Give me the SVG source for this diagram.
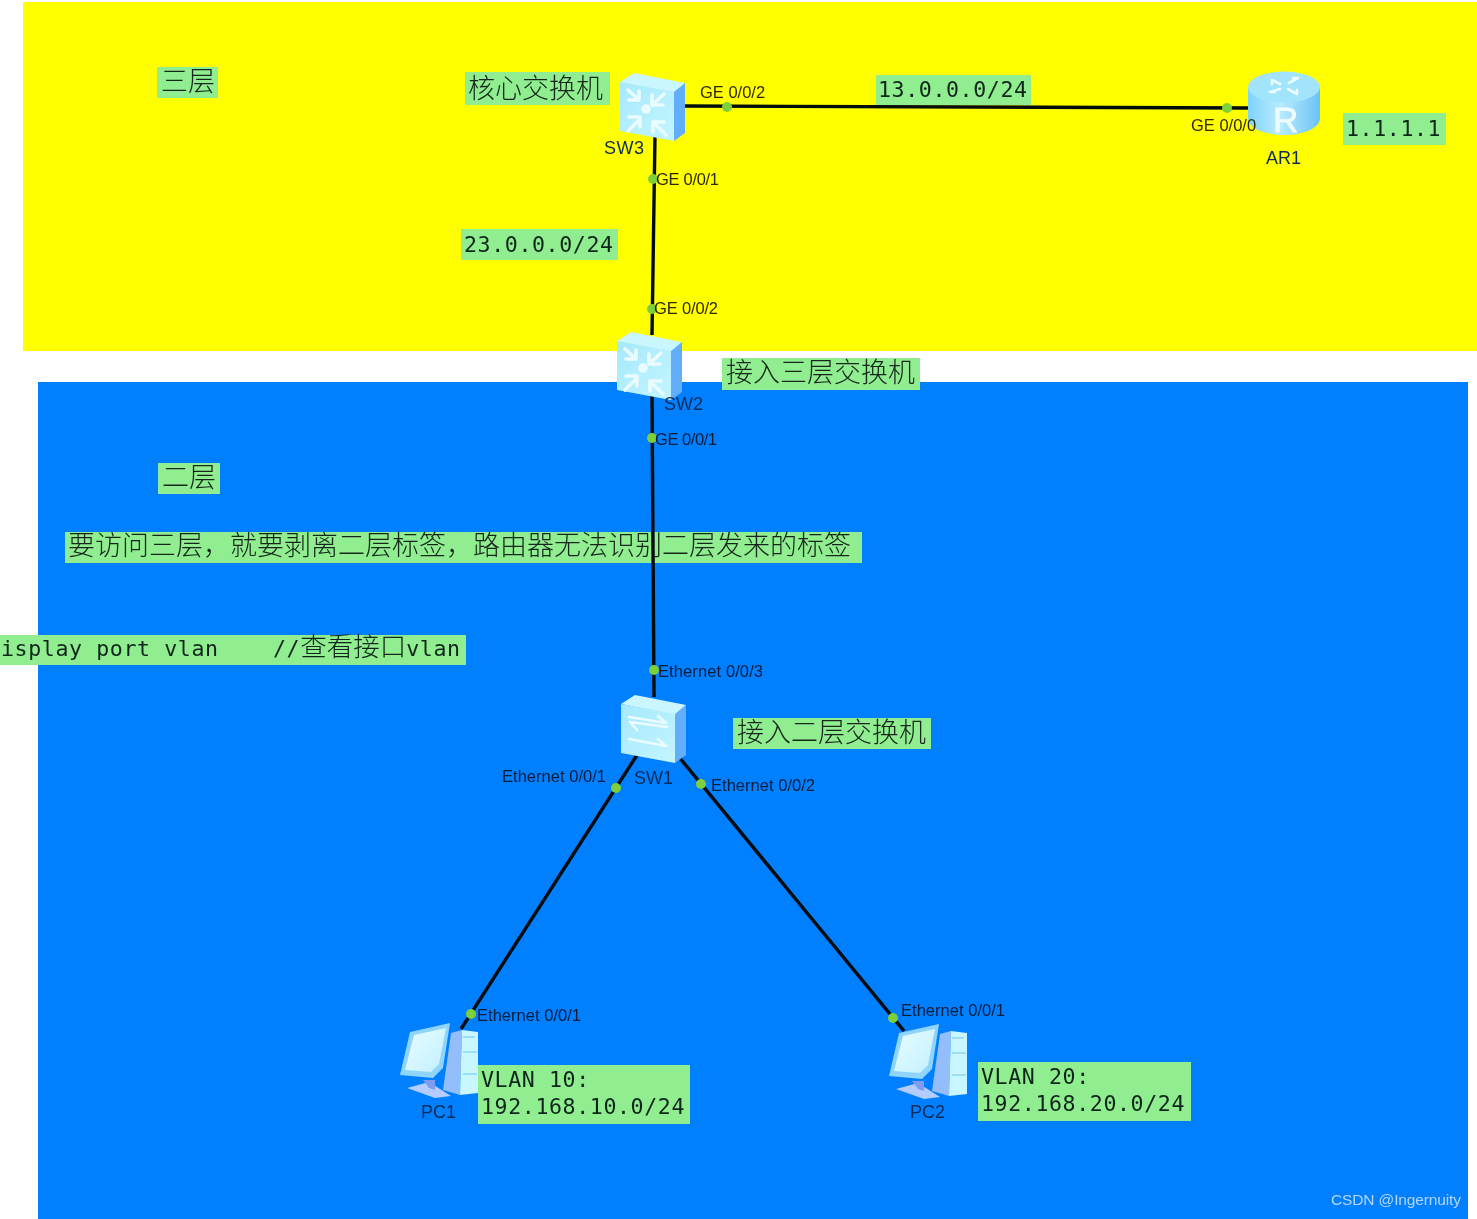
<svg xmlns="http://www.w3.org/2000/svg" xmlns:xlink="http://www.w3.org/1999/xlink" width="1477" height="1219" viewBox="0 0 1477 1219">
<style>
.lbl{fill:#90ee90}
.cn{font-family:"Noto Sans CJK SC","Noto Sans CJK JP",sans-serif;font-size:27px;fill:#14261a;font-weight:300}
.mono{font-family:"DejaVu Sans Mono","Noto Sans CJK SC",monospace;font-size:21.6px;letter-spacing:.6px;fill:#10261a}
.mcn{font-family:"Noto Sans CJK SC",sans-serif;font-size:26.5px;letter-spacing:0;font-weight:300}
.port{font-family:"Liberation Sans",Arial,sans-serif;font-size:16.5px;fill:#0c1c38}
.py{fill:#2e2a00}
.name{font-family:"Liberation Sans",Arial,sans-serif;font-size:18px;fill:#0c2c58}
.link{stroke:#05080c;stroke-width:3.4;fill:none}
.dot{fill:#7ed03a}
.ar{fill:none;stroke:#eafcff;stroke-width:3.6;stroke-linecap:round;stroke-linejoin:round}
.ar2{fill:none;stroke:#eafcff;stroke-width:2.6;stroke-linecap:round;stroke-linejoin:round}
</style>
<defs>
<filter id="soft" x="0" y="0" width="100%" height="100%"><feGaussianBlur stdDeviation="0.5"/></filter>
<linearGradient id="face" x1="0" y1="0" x2="1" y2="1"><stop offset="0" stop-color="#a5e9fd"/><stop offset="1" stop-color="#c4f5ff"/></linearGradient>
<linearGradient id="cyl" x1="0" y1="0" x2="1" y2="0"><stop offset="0" stop-color="#7fd3fb"/><stop offset=".45" stop-color="#b9ecff"/><stop offset="1" stop-color="#6cc2f5"/></linearGradient>
<linearGradient id="scr" x1="0" y1="0" x2="1" y2="1"><stop offset="0" stop-color="#e8fdff"/><stop offset="1" stop-color="#c2f0ff"/></linearGradient>
<g id="boxbody">
<path d="M0 9L14 0L65 10L54 20Z" fill="#c9f6ff"/>
<path d="M54 19L65 10V60L54 68Z" fill="#64aefb"/>
<path d="M0 9L54 19V68L0 58Z" fill="url(#face)"/>
</g>
<g id="l3sw">
<use xlink:href="#boxbody"/>
<circle cx="26" cy="36" r="4.800" fill="#eafcff"/>
<path class="ar" d="M8 17L19 27M9 27H19V18M44 21L32 32M32 22V32H43M8 58L20 46M9 44H20V54M46 62L33 49M33 59V49H44"/>
</g>
<g id="l2sw">
<use xlink:href="#boxbody"/>
<path class="ar2" d="M8 22L45 28L37 21M46 32L9 27L16 35M8 44L45 51L37 44"/>
</g>
<g id="pc">
<path d="M8 66L36 76L52 74L30 60Z" fill="#b4ccff"/>
<path d="M24 58L30 66L36 68L36 58Z" fill="#7f9cf0"/>
<path d="M1 53L11 10L51 1L44 46L34 56Z" fill="#8fd4fb"/>
<path d="M6 48L15 13L47 6L40 42L32 50Z" fill="url(#scr)"/>
<path d="M52 11L63 8L61 73L44 68Z" fill="#93bdfb"/>
<path d="M63 8L79 10V71L61 73Z" fill="#c8f7ff"/>
<path d="M64 15H76M64 30H78M64 52H78" stroke="#8fd8f5" stroke-width="1.5"/>
</g>
</defs>

<g id="scene" filter="url(#soft)">
<g id="zones">
<rect x="23" y="2" width="1454" height="349" fill="#ffff00"/>
<rect x="38" y="382" width="1430" height="837" fill="#007fff"/>
</g>

<g id="l-note"><rect class="lbl" x="65" y="532" width="797" height="31"/><text class="cn" x="68" y="555">要访问三层，就要剥离二层标签，路由器无法识别二层发来的标签</text></g>

<g id="connectors">
<path class="link" d="M684 106L1250 108"/>
<path class="link" d="M655 135L652 335"/>
<path class="link" d="M652 395L654 697"/>
<path class="link" d="M637 755L461 1029"/>
<path class="link" d="M679 757L904 1031"/>
<circle class="dot" cx="727" cy="107" r="5"/>
<circle class="dot" cx="1227" cy="108" r="5"/>
<circle class="dot" cx="653" cy="179" r="5"/>
<circle class="dot" cx="652" cy="309" r="5"/>
<circle class="dot" cx="652" cy="438" r="5"/>
<circle class="dot" cx="654" cy="670" r="5"/>
<circle class="dot" cx="616" cy="788" r="5"/>
<circle class="dot" cx="701" cy="784" r="5"/>
<circle class="dot" cx="471" cy="1014" r="5"/>
<circle class="dot" cx="893" cy="1018" r="5"/>
</g>

<g id="SW3"><use xlink:href="#l3sw" x="620" y="73"/><text class="name py" x="604" y="154" textLength="40">SW3</text></g>
<g id="SW2"><use xlink:href="#l3sw" x="617" y="332"/><text class="name" x="664" y="410">SW2</text></g>
<g id="SW1"><use xlink:href="#l2sw" x="621" y="695"/><text class="name" x="634" y="784">SW1</text></g>
<g id="AR1">
<path d="M1248 88V118C1248 128 1264 135 1284 135S1320 128 1320 118V88Z" fill="url(#cyl)"/>
<ellipse cx="1284" cy="87" rx="36" ry="15.500" fill="#a2e4fb"/>
<path class="ar2" d="M1272 80L1280 84M1272 80V84M1298 78L1289 83M1298 78H1293M1270 92L1280 89M1270 92H1275M1297 94L1288 89M1297 94V90" stroke-width="2.2"/>
<text x="1273" y="132" font-family="Liberation Sans,sans-serif" font-size="35" fill="#eefcff" stroke="#eefcff" stroke-width=".8">R</text>
<text class="name py" x="1266" y="164">AR1</text>
</g>
<g id="PC1"><use xlink:href="#pc" x="399" y="1022"/><text class="name" x="421" y="1118">PC1</text></g>
<g id="PC2"><use xlink:href="#pc" x="888" y="1023"/><text class="name" x="910" y="1118">PC2</text></g>

<g id="ports">
<text class="port py" x="700" y="98">GE 0/0/2</text>
<text class="port py" x="1191" y="131">GE 0/0/0</text>
<text class="port py" x="656" y="185" textLength="63">GE 0/0/1</text>
<text class="port py" x="654" y="314" textLength="64">GE 0/0/2</text>
<text class="port" x="655" y="445" textLength="62">GE 0/0/1</text>
<text class="port" x="658" y="677" textLength="105">Ethernet 0/0/3</text>
<text class="port" x="502" y="782" textLength="104">Ethernet 0/0/1</text>
<text class="port" x="711" y="791" textLength="104">Ethernet 0/0/2</text>
<text class="port" x="477" y="1021" textLength="104">Ethernet 0/0/1</text>
<text class="port" x="901" y="1016" textLength="104">Ethernet 0/0/1</text>
</g>

<g id="labels">
<g id="l-3"><rect class="lbl" x="157" y="67" width="61" height="31"/><text class="cn" x="161" y="91">三层</text></g>
<g id="l-core"><rect class="lbl" x="465" y="72" width="145" height="33"/><text class="cn" x="468" y="98">核心交换机</text></g>
<g id="l-13"><rect class="lbl" x="876" y="75" width="155" height="30"/><text class="mono" x="878" y="97">13.0.0.0/24</text></g>
<g id="l-111"><rect class="lbl" x="1343" y="113" width="103" height="32"/><text class="mono" x="1346" y="136">1.1.1.1</text></g>
<g id="l-23"><rect class="lbl" x="461" y="229" width="157" height="31"/><text class="mono" x="464" y="252">23.0.0.0/24</text></g>
<g id="l-a3"><rect class="lbl" x="722" y="358" width="198" height="32"/><text class="cn" x="726" y="382">接入三层交换机</text></g>
<g id="l-2"><rect class="lbl" x="158" y="463" width="62" height="31"/><text class="cn" x="162" y="487">二层</text></g>
<g id="l-cmd"><rect class="lbl" x="0" y="635" width="466" height="30"/><text class="mono" x="1" y="656" xml:space="preserve">isplay port vlan    //<tspan class="mcn">查看接口</tspan>vlan</text></g>
<g id="l-a2"><rect class="lbl" x="733" y="718" width="198" height="31"/><text class="cn" x="737" y="742">接入二层交换机</text></g>
<g id="l-v10"><rect class="lbl" x="478" y="1065" width="212" height="59"/><text class="mono" x="481" y="1087">VLAN 10:</text><text class="mono" x="481" y="1114">192.168.10.0/24</text></g>
<g id="l-v20"><rect class="lbl" x="978" y="1062" width="213" height="59"/><text class="mono" x="981" y="1084">VLAN 20:</text><text class="mono" x="981" y="1111">192.168.20.0/24</text></g>
</g>
<text id="wm" x="1331" y="1205" font-family="Liberation Sans,sans-serif" font-size="15.5" fill="#b4d6f4" textLength="130">CSDN @Ingernuity</text>
</g>
</svg>
